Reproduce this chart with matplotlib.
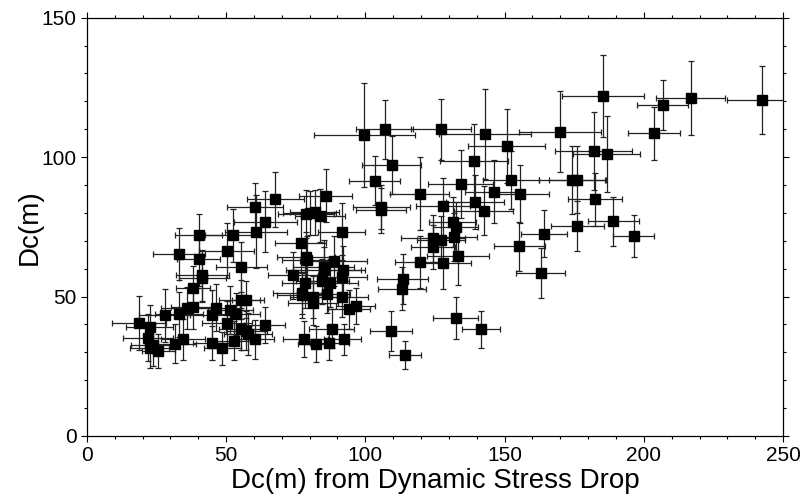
import matplotlib
matplotlib.use("Agg")
import matplotlib.pyplot as plt
from matplotlib.ticker import MultipleLocator

plt.rcParams['font.family'] = ['Liberation Sans', 'DejaVu Sans']

# Dc from dynamic stress drop (x) vs Dc (y), with uncertainties
dc_stress = [
    242.6, 216.9, 206.8, 203.7, 185.3, 186.6, 182.0, 170.0, 174.3, 176.1,
    182.4, 189.0, 176.1, 196.3, 164.2, 155.3, 163.0, 155.7, 152.2, 150.7,
    146.3, 143.0, 139.0, 139.3, 142.5, 134.2, 127.2, 127.8, 131.4, 132.4,
    132.0, 127.2, 124.3, 124.3, 133.3, 127.9, 119.5, 119.5, 113.4, 113.1,
    109.4, 107.0, 99.6, 103.3, 105.7, 105.7, 109.2, 114.3, 132.4, 141.5,
    67.6, 85.7, 60.3, 64.0, 78.7, 80.0, 81.8, 83.6, 60.7, 91.5,
    52.4, 40.1, 50.2, 33.1, 40.1, 41.5, 41.5, 38.2, 55.5, 55.5,
    57.0, 76.8, 78.7, 79.0, 88.6, 85.0, 85.0, 74.1, 78.5, 84.6,
    87.3, 91.5, 91.9, 77.2, 77.2, 81.3, 81.3, 86.4, 91.5, 94.1,
    96.5, 87.9, 77.8, 82.4, 87.0, 92.5,
    45.0, 46.5, 38.2, 35.8, 33.1, 27.9, 51.5, 53.7, 50.2, 55.5,
    57.3, 57.9, 60.3, 63.8, 53.0, 45.0, 48.7, 34.6, 31.8, 18.9,
    22.6, 22.1, 22.6, 23.9, 25.7,
]
dc = [
    120.4, 121.3, 118.6, 108.5, 121.9, 101.1, 102.1, 109.1, 91.9, 91.9,
    84.8, 77.0, 75.2, 71.8, 72.5, 68.0, 58.4, 86.8, 91.8, 104.0,
    87.6, 108.3, 98.7, 83.9, 80.8, 90.4, 109.9, 82.3, 76.7, 74.9,
    71.3, 70.3, 70.9, 67.7, 64.4, 62.0, 86.8, 62.4, 56.4, 52.8,
    97.2, 109.9, 107.9, 91.6, 82.0, 80.9, 37.6, 29.0, 42.3, 38.2,
    84.8, 86.2, 82.0, 76.9, 79.6, 80.0, 80.2, 79.0, 73.3, 73.3,
    71.9, 71.9, 66.5, 65.3, 63.3, 57.6, 56.6, 53.2, 60.6, 48.9,
    48.9, 69.3, 64.1, 63.2, 62.7, 60.6, 59.6, 57.6, 55.0, 55.4,
    54.8, 57.0, 59.6, 51.4, 50.4, 49.8, 47.7, 51.0, 50.0, 45.4,
    46.5, 38.5, 34.9, 33.1, 33.4, 34.6,
    43.5, 46.0, 46.3, 46.0, 43.6, 43.3, 45.1, 43.6, 40.5, 38.5,
    37.7, 36.7, 34.6, 39.7, 34.1, 33.4, 31.4, 34.6, 33.1, 40.5,
    38.9, 35.3, 31.4, 32.6, 30.5,
]
dc_stress_err = [
    12.9, 12.4, 9.2, 9.4, 14.7, 12.0, 13.8, 14.7, 12.0, 10.0,
    9.8, 9.2, 9.6, 7.4, 8.3, 9.2, 8.8, 10.1, 10.1, 13.8,
    10.4, 16.4, 12.1, 10.4, 10.6, 11.7, 10.8, 9.7, 8.5, 8.0,
    8.0, 8.5, 11.5, 8.0, 11.0, 10.1, 10.6, 8.7, 9.2, 8.7,
    10.5, 10.2, 18.2, 9.0, 10.3, 9.0, 7.4, 5.8, 8.0, 6.7,
    10.2, 9.5, 10.1, 11.3, 10.0, 9.5, 8.8, 9.0, 11.2, 8.5,
    10.1, 8.6, 9.8, 9.2, 7.8, 9.6, 8.5, 6.1, 9.3, 8.0,
    5.0, 9.2, 10.5, 9.0, 12.0, 11.0, 13.5, 9.0, 8.5, 9.5,
    10.0, 9.0, 8.0, 10.5, 9.0, 8.5, 9.0, 8.0, 9.5, 7.5,
    7.0, 8.0, 7.5, 6.5, 7.0, 6.0,
    9.0, 8.5, 8.0, 9.0, 8.5, 9.0, 8.0, 8.5, 9.0, 8.0,
    7.5, 8.5, 7.0, 7.5, 8.0, 7.0, 6.5, 8.0, 7.5, 9.7,
    8.5, 9.0, 7.0, 8.0, 6.0,
]
dc_err = [
    12.1, 13.3, 8.9, 9.4, 14.8, 13.5, 14.0, 14.6, 12.2, 12.0,
    9.5, 8.8, 8.9, 7.5, 8.5, 8.8, 8.9, 10.3, 10.3, 13.4,
    11.3, 16.1, 13.3, 9.8, 8.9, 12.2, 11.1, 10.1, 8.9, 9.0,
    8.5, 8.5, 8.5, 8.0, 10.3, 9.2, 13.1, 9.2, 9.0, 7.8,
    10.3, 10.7, 18.5, 8.8, 7.9, 8.0, 7.2, 5.0, 7.4, 6.6,
    10.0, 9.4, 8.6, 11.0, 8.5, 8.0, 8.0, 9.5, 13.0, 10.3,
    9.5, 7.8, 9.8, 9.2, 9.7, 9.2, 8.5, 7.6, 8.8, 7.0,
    6.5, 10.4, 9.0, 8.5, 9.0, 9.5, 8.0, 8.5, 9.0, 8.0,
    8.5, 8.0, 8.5, 7.5, 8.0, 7.5, 8.0, 7.0, 7.5, 7.0,
    6.5, 7.0, 6.5, 6.5, 6.0, 5.5,
    9.0, 8.5, 8.0, 7.5, 8.0, 9.5, 8.5, 7.5, 8.0, 7.5,
    7.0, 7.5, 7.0, 6.5, 7.0, 6.0, 6.0, 7.5, 7.0, 9.7,
    8.0, 8.5, 7.0, 7.5, 6.0,
]

fig = plt.figure(figsize=(8.04, 5.04), dpi=100)
ax = fig.add_axes([0.108, 0.135, 0.866, 0.830])

ax.errorbar(dc_stress, dc, xerr=dc_stress_err, yerr=dc_err, fmt='s',
            color='black', ms=6.5, ecolor='#222222', elinewidth=0.9,
            capsize=2.5, capthick=0.9)

ax.set_xlim(0, 250)
ax.set_ylim(0, 150)
ax.xaxis.set_major_locator(MultipleLocator(50))
ax.xaxis.set_minor_locator(MultipleLocator(10))
ax.yaxis.set_major_locator(MultipleLocator(50))
ax.yaxis.set_minor_locator(MultipleLocator(10))
ax.tick_params(which='both', direction='out', top=True, right=True,
               labelsize=15, width=0.8)
ax.tick_params(which='major', length=4)
ax.tick_params(which='minor', length=2)
for s in ax.spines.values():
    s.set_linewidth(0.9)

ax.set_xlabel('Dc(m) from Dynamic Stress Drop', fontsize=20, labelpad=2)
ax.set_ylabel('Dc(m)', fontsize=20, labelpad=-1)

fig.savefig('out.png', dpi=100)
